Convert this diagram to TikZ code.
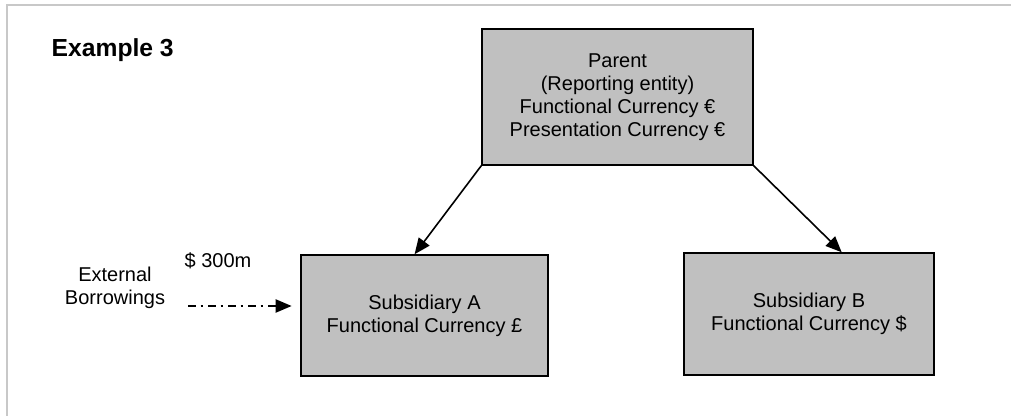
\documentclass[tikz,border=0pt]{standalone}
\usepackage{fontspec}
\setmainfont{Liberation Sans}
\usepackage{tikz}
\usetikzlibrary{arrows.meta,calc}
\definecolor{BoxGrey}{HTML}{C0C0C0}
\definecolor{FrameGrey}{HTML}{C8C8C8}

\tikzset{
  entity/.style={draw=black, fill=BoxGrey, line width=1.1pt, align=center,
    inner sep=0pt, font=\fontsize{15}{17.25}\selectfont},
  owns/.style={line width=1.2pt, -{Triangle[length=12pt,width=10pt]}},
  plain/.style={align=center, font=\fontsize{15}{17.25}\selectfont}
}

\begin{document}
\begin{tikzpicture}[x=0.75pt,y=-0.75pt]
  \useasboundingbox (0,0) rectangle (1011,416);
  \draw[FrameGrey, line width=2pt] (1011,5) -- (7,5) -- (7,416);

  \node[font=\fontsize{18.5}{21}\selectfont\bfseries, anchor=west] (title) at (47,50) {Example 3};

  \node[entity, minimum width=203.25pt, minimum height=102pt] (parent) at (617.5,97)
    {Parent\\(Reporting entity)\\Functional Currency €\\Presentation Currency €};
  \node[entity, minimum width=185.25pt, minimum height=90.75pt] (subA) at (424.5,315.5)
    {Subsidiary A\\Functional Currency £};
  \node[entity, minimum width=187.5pt, minimum height=91.5pt] (subB) at (809,314)
    {Subsidiary B\\Functional Currency \$};

  \draw[owns] (parent.south west) -- ($(subA.north west)!0.46!(subA.north east)$);
  \draw[owns] (parent.south east) -- ($(subB.north west)!0.63!(subB.north east)$);

  \node[plain] (borrowings) at (115,288) {External\\Borrowings};
  \node[plain] (amount) at (218,261) {\$ 300m};
  \coordinate (loan) at (188,306);
  \draw[owns, line width=1pt, dash pattern=on 6pt off 3.5pt on 2pt off 3.5pt,
    shorten >=6.5pt] (loan) -- (loan -| subA.west);
\end{tikzpicture}
\end{document}
